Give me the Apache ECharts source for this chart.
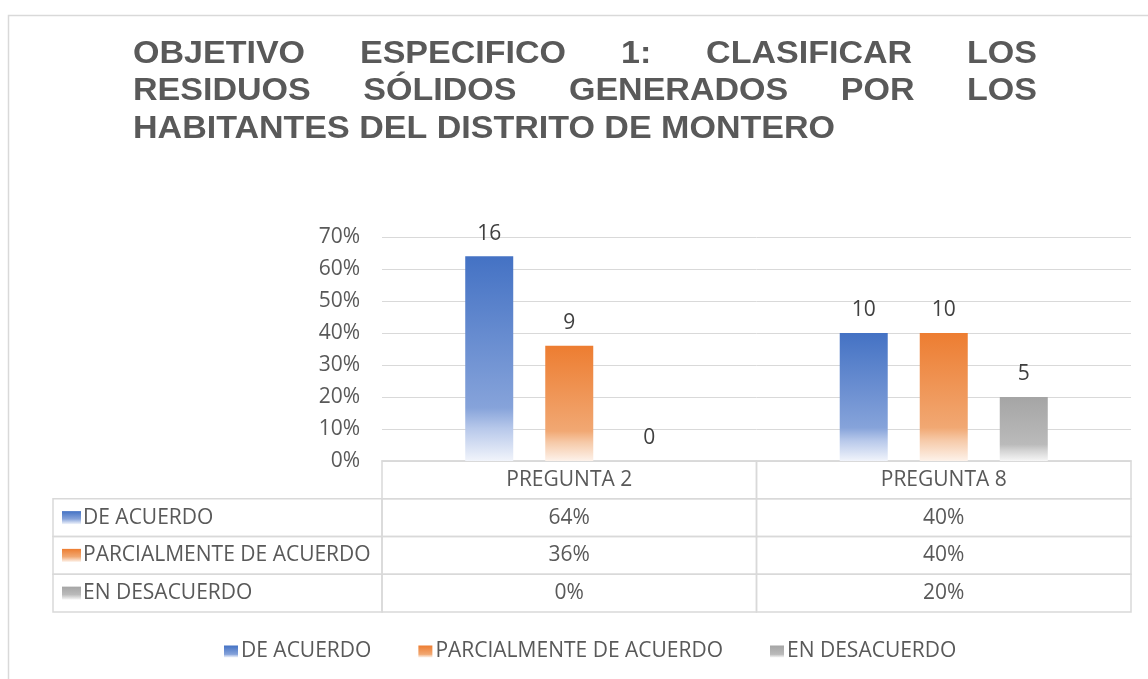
<!DOCTYPE html>
<html><head><meta charset="utf-8">
<script src="https://cdn.jsdelivr.net/npm/echarts@6/dist/echarts.min.js"></script>
<style>html,body{margin:0;padding:0;background:#fff}#c{width:1148px;height:679px}</style>
</head><body><div id="c"></div>
<script>
// ---- data ----
const categories = ['PREGUNTA 2', 'PREGUNTA 8'];
const seriesNames = ['DE ACUERDO', 'PARCIALMENTE DE ACUERDO', 'EN DESACUERDO'];
const deAcuerdoPct = [64, 40];
const parcialPct = [36, 40];
const desacuerdoPct = [0, 20];
const deAcuerdoCount = [16, 10];
const parcialCount = [9, 10];
const desacuerdoCount = [0, 5];
const yMin = 0, yMax = 70, yStep = 10;
const titleLines = [
  ['OBJETIVO', 'ESPECIFICO', '1:', 'CLASIFICAR', 'LOS'],
  ['RESIDUOS', 'SÓLIDOS', 'GENERADOS', 'POR', 'LOS'],
  ['HABITANTES DEL DISTRITO DE MONTERO']
];

// ---- styling ----
const gradStops = [
  ['#4472C4', '#86a3da', '#b7c8ea', '#f1f4fb'],
  ['#ED7D31', '#f1a873', '#f6caa9', '#fdf2ea'],
  ['#A5A5A5', '#bababa', '#d4d4d4', '#f6f6f6']
];
function grad(i) {
  const s = gradStops[i];
  return new echarts.graphic.LinearGradient(0, 0, 0, 1, [
    {offset: 0, color: s[0]}, {offset: 0.74, color: s[1]},
    {offset: 0.84, color: s[2]}, {offset: 1, color: s[3]}
  ]);
}
const pctSeries = [deAcuerdoPct, parcialPct, desacuerdoPct];
const countSeries = [deAcuerdoCount, parcialCount, desacuerdoCount];
const bodyFont = 'Open Sans';
const fs = 21;
const txtColor = '#595959';
const lineColor = '#d9d9d9';

// title (justified lines, horizontally condensed)
const titleFont = 'bold 31px "Liberation Sans"';
const tLeft = 133, tRight = 1037, tY = [54, 91.5, 129], lastLineWidth = 702;
const mctx = document.createElement('canvas').getContext('2d');
mctx.font = titleFont;
const sx = lastLineWidth / mctx.measureText(titleLines[2][0]).width;
const graphics = [];
titleLines.forEach((words, li) => {
  const mk = (w, x) => ({type: 'text', x: x, y: tY[li], scaleX: sx, style: {text: w, font: titleFont, fill: txtColor, verticalAlign: 'middle'}});
  if (words.length === 1) { graphics.push(mk(words[0], tLeft)); return; }
  const widths = words.map(w => mctx.measureText(w).width * sx);
  const total = widths.reduce((a, b) => a + b, 0);
  const gap = (tRight - tLeft - total) / (words.length - 1);
  let x = tLeft;
  words.forEach((w, k) => { graphics.push(mk(w, x)); x += widths[k] + gap; });
});
// outer chart border
graphics.push({type: 'rect', shape: {x: 8.5, y: 15.5, width: 1200, height: 700}, style: {fill: 'none', stroke: lineColor, lineWidth: 1.5}, silent: true});

// table cells
const cellData = [];
const cellText = [];
categories.forEach((c, ci) => {
  cellData.push([ci, 0]); cellText.push(c);
  pctSeries.forEach((arr, si) => { cellData.push([ci, si + 1]); cellText.push(arr[ci] + '%'); });
});
const labelColWidth = 329;

const rich = {sp: {width: 2}};
gradStops.forEach((s, i) => {
  rich['i' + i] = {width: 19, height: 13, verticalAlign: 'middle', backgroundColor: new echarts.graphic.LinearGradient(0, 0, 0, 1, [
    {offset: 0, color: s[0]}, {offset: 0.6, color: s[1]}, {offset: 1, color: s[3]}])};
});

const chart = echarts.init(document.getElementById('c'));
chart.setOption({
  backgroundColor: '#fff',
  animation: false,
  graphic: graphics,
  grid: [
    {left: 382, right: 17, top: 237, bottom: 218},
    {left: 382, right: 17, top: 461, height: 151}
  ],
  xAxis: [
    {type: 'category', gridIndex: 0, data: categories, axisLine: {lineStyle: {color: lineColor, width: 1.5}}, axisTick: {show: false}, axisLabel: {show: false}},
    {type: 'category', gridIndex: 1, data: categories, axisLine: {show: false}, axisTick: {show: false}, axisLabel: {show: false}}
  ],
  yAxis: [
    {type: 'value', gridIndex: 0, min: yMin, max: yMax, interval: yStep,
     axisLine: {show: false}, axisTick: {show: false},
     axisLabel: {formatter: '{value}%', fontSize: fs, color: txtColor, fontFamily: bodyFont, margin: 22},
     splitLine: {lineStyle: {color: lineColor, width: 1}}},
    {type: 'category', gridIndex: 1, inverse: true, data: [''].concat(seriesNames),
     axisLine: {show: false}, axisTick: {show: false}, splitLine: {show: false},
     axisLabel: {align: 'left', margin: 320, fontSize: fs, color: txtColor, fontFamily: bodyFont, rich: rich,
       formatter: (v, i) => i === 0 ? '' : '{i' + (i - 1) + '|}{sp|}' + v}}
  ],
  legend: {
    left: 219, top: 636, itemWidth: 14, itemHeight: 12, itemGap: 47, icon: 'rect',
    textStyle: {fontSize: fs, color: txtColor, fontFamily: bodyFont, padding: [0, 0, 0, -2]},
    data: seriesNames
  },
  series: seriesNames.map((n, si) => ({
    type: 'bar', name: n, data: pctSeries[si], barWidth: 48, barGap: '66.7%',
    itemStyle: {color: grad(si)},
    label: {show: true, position: 'top', distance: 12, fontSize: fs, color: '#404040', fontFamily: bodyFont,
      formatter: p => String(countSeries[si][p.dataIndex])}
  })).concat([{
    type: 'custom', xAxisIndex: 1, yAxisIndex: 1, data: cellData, silent: true,
    renderItem: (params, api) => {
      const c = api.value(0), r = api.value(1);
      const p = api.coord([c, r]);
      const s = api.size([1, 1]);
      const x0 = p[0] - s[0] / 2, y0 = p[1] - s[1] / 2;
      const ch = [
        {type: 'rect', shape: {x: x0, y: y0, width: s[0], height: s[1]}, style: {fill: 'none', stroke: lineColor, lineWidth: 1.5}},
        {type: 'text', x: p[0], y: p[1], style: {text: cellText[params.dataIndex], fontSize: fs, fontFamily: bodyFont, fill: txtColor, align: 'center', verticalAlign: 'middle'}}
      ];
      if (c === 0 && r >= 1) {
        ch.push({type: 'rect', shape: {x: x0 - labelColWidth, y: y0, width: labelColWidth, height: s[1]}, style: {fill: 'none', stroke: lineColor, lineWidth: 1.5}});
      }
      return {type: 'group', children: ch};
    }
  }])
});
</script></body></html>
